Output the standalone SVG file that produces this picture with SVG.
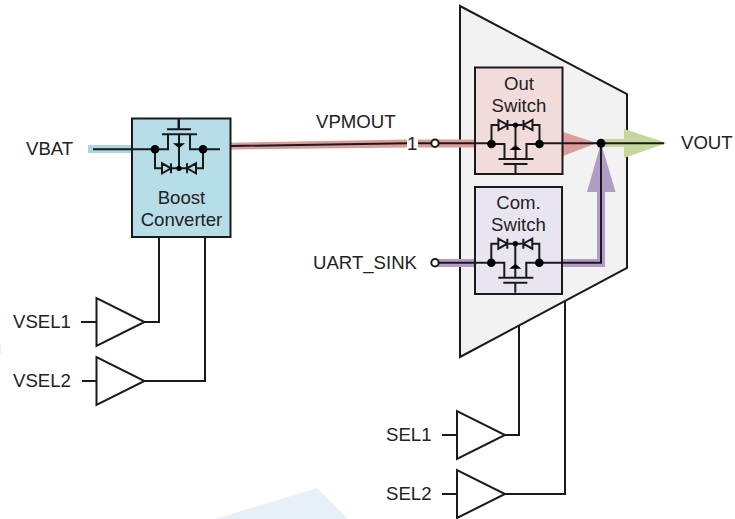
<svg xmlns="http://www.w3.org/2000/svg" width="735" height="519" viewBox="0 0 735 519">
<style>
text{font-family:"Liberation Sans",Arial,sans-serif;font-size:18.600px;fill:#222}
.m{text-anchor:middle}
.w{fill:none;stroke:#1a1a1a;stroke-width:2}
.b{fill:#fff;stroke:#1a1a1a;stroke-width:2}
.k{fill:#000}
</style>
<defs>
<g id="fet">
<path class="w" d="M-24 0V-19H-17M-7-19H7M17-19H24V0M-24 0H-11V15M24 0H11V15M-17 15H18M0-19V15M-12 20H12M0 20V30"/>
<path class="w" d="M-17-24V-14L-8-19ZM17-24V-14L8-19ZM-8-24V-14M8-24V-14"/>
<path class="k" d="M0 1L-6 6H6Z"/>
<circle class="k" cx="-24" cy="0" r="4.300"/><circle class="k" cx="24" cy="0" r="4.300"/><circle class="k" cx="0" cy="-19" r="2.600"/>
</g>
<g id="buf"><path class="b" d="M0 -24V24L48 0Z"/></g>
</defs>
<rect width="735" height="519" fill="#fff"/>
<path d="M317 488L348 519H215Z" fill="#e6f0f8"/>
<path d="M0 343Q3 349 0 355Z" fill="#e6f0f8"/>

<g id="mux"><path d="M460 6L627 94V268L460 357Z" fill="#f2f2f2" stroke="#1a1a1a" stroke-width="2"/></g>

<g id="bands">
<rect x="88" y="145" width="44" height="8" fill="#a7d6e4"/>
<path d="M231 142.700L407 139.500V147.500L231 149.500Z" fill="#dc9d9a"/>
<path d="M418 139.500H563V132L597 143L563 156V147.500H418Z" fill="#dc9d9a"/>
<path d="M604 139H624V129L667 143L624 158V147H604Z" fill="#c6d79c"/>
<path d="M437 259H597V192H587L601 143L615.600 192H605V267H437Z" fill="#b09cc5"/>
</g>

<g id="connectors">
<path class="w" d="M93 149.300H132M231 146L407 143.300M418 143.300H431M439 143.300H491"/>
<path class="w" d="M539 143.300H664M601 143.300V262.700H539M439 262.700H491"/>
<path class="w" d="M159 237V322H144M205 237V381H144M81 322H97M82 381H97"/>
<path class="w" d="M519 326V435H505M565 301V494H505M442 435H457M442 494H457"/>
<circle class="k" cx="601" cy="143.300" r="4.500"/>
</g>

<g id="boost">
<rect x="132" y="118.500" width="98.500" height="118.500" fill="#b7dde8" stroke="#1a1a1a" stroke-width="2"/>
<path class="w" d="M132 149.300H155M203 149.300H220M178.500 118.500V129"/>
<use href="#fet" transform="translate(179 149.300) scale(1 -1)"/>
<text class="m" x="181.500" y="204">Boost</text>
<text class="m" x="181.500" y="226">Converter</text>
</g>

<g id="out-switch">
<rect x="475" y="67.500" width="87.500" height="106.500" fill="#f2dcdb" stroke="#1a1a1a" stroke-width="2"/>
<path class="w" d="M475 143.300H491M539 143.300H563"/>
<use href="#fet" transform="translate(515.500 144)"/>
<text class="m" x="519" y="90">Out</text>
<text class="m" x="519" y="112">Switch</text>
</g>

<g id="com-switch">
<rect x="475" y="187" width="87" height="107" fill="#e9e5f0" stroke="#1a1a1a" stroke-width="2"/>
<path class="w" d="M475 262.700H491M539 262.700H563"/>
<use href="#fet" transform="translate(515.300 262.700)"/>
<text class="m" x="518.500" y="209">Com.</text>
<text class="m" x="518.500" y="231">Switch</text>
</g>

<g id="port-1"><circle class="b" cx="435" cy="143.300" r="3.700"/></g>
<g id="port-uart"><circle class="b" cx="435" cy="262.700" r="3.700"/></g>

<g id="vsel1"><use href="#buf" x="96.500" y="322"/><text x="13" y="328">VSEL1</text></g>
<g id="vsel2"><use href="#buf" x="96.500" y="381"/><text x="13" y="387">VSEL2</text></g>
<g id="sel1"><use href="#buf" x="457" y="435"/><text x="386" y="441">SEL1</text></g>
<g id="sel2"><use href="#buf" x="457" y="494"/><text x="386" y="500">SEL2</text></g>

<g id="labels">
<text x="26" y="155">VBAT</text>
<text x="316" y="128">VPMOUT</text>
<text x="407" y="150">1</text>
<text x="681" y="149">VOUT</text>
<text x="313" y="269">UART_SINK</text>
</g>
</svg>
